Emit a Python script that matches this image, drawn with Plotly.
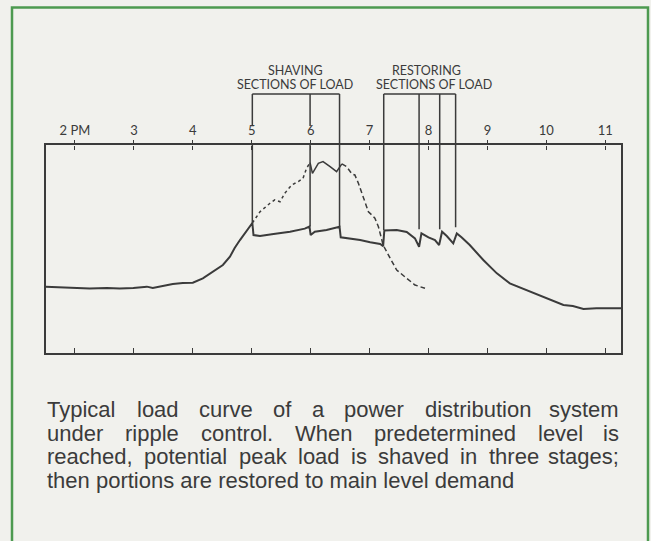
import numpy as np
import plotly.graph_objects as go

W, H = 651, 541

# Solid curve: actual system load (hours after noon, load in % of chart height)
hours = [1.50, 1.75, 1.97, 2.25, 2.54, 2.76, 2.99, 3.22, 3.32, 3.49,
         3.66, 3.83, 4.00, 4.17, 4.34, 4.51, 4.63, 4.71, 4.80, 4.91,
         5.01, 5.03, 5.14, 5.37, 5.65, 5.90, 5.98, 6.00, 6.07, 6.27,
         6.44, 6.49, 6.51, 6.84, 7.01, 7.18, 7.23, 7.25, 7.46, 7.63,
         7.77, 7.84, 7.88, 8.00, 8.11, 8.18, 8.23, 8.31, 8.42, 8.48,
         8.56, 8.70, 8.93, 9.16, 9.38, 9.72, 10.06, 10.29, 10.45, 10.63,
         10.85, 11.08, 11.27]
load = [31.9, 31.5, 31.1, 31.0, 31.25, 31.0, 31.25, 31.9, 31.25, 32.2,
        33.2, 33.7, 33.8, 35.9, 39.1, 42.3, 46.3, 50.5, 54.3, 58.3,
        62.5, 56.7, 56.25, 57.2, 58.3, 59.8, 60.8, 56.7, 58.3, 59.1,
        60.1, 60.7, 55.6, 54.3, 53.2, 52.4, 51.4, 58.9, 59.1, 58.2,
        55.1, 51.1, 57.5, 55.6, 54.3, 51.9, 58.3, 56.25, 52.7, 57.5,
        55.6, 51.9, 44.7, 38.3, 33.5, 29.5, 25.5, 23.1, 22.6, 21.2,
        21.5, 21.4, 21.5]

# Dashed curve: potential (unshaved) peak load
potential_hours = [5.01, 5.14, 5.31, 5.39, 5.48, 5.56, 5.68, 5.79, 5.87, 5.93,
                   5.99, 6.03, 6.13, 6.21, 6.33, 6.44, 6.53, 6.61, 6.70, 6.75,
                   6.81, 6.89, 6.98, 7.04, 7.09, 7.15, 7.21, 7.23, 7.35, 7.46,
                   7.63, 7.77, 7.94]
potential_load = [62.5, 67.9, 72.0, 73.6, 72.7, 76.8, 80.8, 82.4, 84.0, 88.8,
                  91.5, 86.4, 91.2, 92.0, 89.6, 87.2, 90.9, 89.6, 86.1, 85.6,
                  81.6, 75.1, 67.9, 66.3, 64.8, 60.7, 54.3, 51.9, 45.5, 39.9,
                  35.9, 32.7, 31.1]

# Switching instants and the load level where each marker line meets the curve
shaving_hours = [5.01, 5.99, 6.49]
shaving_levels = [62.5, 60.8, 60.7]
restoring_hours = [7.24, 7.84, 8.19, 8.46]
restoring_levels = [59.1, 59.5, 59.5, 60.4]

tick_hours = [2, 3, 4, 5, 6, 7, 8, 9, 10, 11]
tick_labels = ["2 PM", "3", "4", "5", "6", "7", "8", "9", "10", "11"]

caption_lines = [
    "Typical load curve of a power distribution system",
    "under ripple control. When predetermined level is",
    "reached, potential peak load is shaved in three stages;",
    "then portions are restored to main level demand",
]

# ---- layout geometry (pixels) ----
PX_L, PX_R, PX_T, PX_B = 45.7, 621.0, 145.0, 353.0
TOP_PANEL = 60.0               # upper edge of the bracket panel
BRACKET = 51.0                 # bracket height above the frame (panel units = px)
LABEL_GAP = 19.0               # marker lines stop above an hour label
X_RANGE = [1.503, 11.267]
INK = "#3b3b3b"
BG = "#f1f1ed"
GREEN = "#4d9a50"
LABEL_FONT = "Lato"
CAPTION_FONT = "Liberation Sans"
CAPTION_SIZE = 22


def py(v):
    return 1 - v / H


fig = go.Figure()

# potential-load curve, in three stroke styles
ph = np.array(potential_hours)
pl = np.array(potential_load)
segments = [(ph <= 5.99, "3px,3px"), ((ph >= 5.99) & (ph <= 6.53), "solid"), (ph >= 6.53, "5px,3px")]
for mask, dash in segments:
    fig.add_trace(go.Scatter(x=ph[mask], y=pl[mask], mode="lines",
                             line=dict(color=INK, width=1.5, dash=dash),
                             xaxis="x", yaxis="y", hoverinfo="skip"))

# actual load curve
fig.add_trace(go.Scatter(x=hours, y=load, mode="lines",
                         line=dict(color=INK, width=2), xaxis="x", yaxis="y",
                         hoverinfo="skip"))

# marker lines inside the frame
for hs, lv in ((shaving_hours, shaving_levels), (restoring_hours, restoring_levels)):
    xs, ys = [], []
    for h, v in zip(hs, lv):
        xs += [h, h, None]
        ys += [v, 100, None]
    fig.add_trace(go.Scatter(x=xs, y=ys, mode="lines", line=dict(color=INK, width=1.5),
                             xaxis="x", yaxis="y", hoverinfo="skip"))

# brackets above the frame
for hs in (shaving_hours, restoring_hours):
    xs, ys = [hs[0], hs[-1], None], [BRACKET, BRACKET, None]
    for h in hs:
        on_label = abs(h - round(h)) < 0.05
        xs += [h, h, None]
        ys += [LABEL_GAP if on_label else 0, BRACKET, None]
    fig.add_trace(go.Scatter(x=xs, y=ys, mode="lines", line=dict(color=INK, width=1.5),
                             xaxis="x2", yaxis="y2", hoverinfo="skip"))

# keeps the top time axis (labels + frame edge) active
fig.add_trace(go.Scatter(x=[tick_hours[0]], y=[0], mode="markers", opacity=0,
                         xaxis="x3", yaxis="y", hoverinfo="skip"))

annotations = []
lab = dict(family=LABEL_FONT, size=12.5, color=INK)
for text, xc, yc in (("SHAVING", 5.75, 145 - 71), ("SECTIONS OF LOAD", 5.73, 145 - 84.5),
                     ("RESTORING", 7.97, 145 - 71), ("SECTIONS OF LOAD", 8.09, 145 - 84.5)):
    annotations.append(dict(text=text, x=xc, y=yc, xref="x2", yref="y2", showarrow=False,
                            xanchor="center", yanchor="middle", font=lab))

# caption, justified like the printed column
HELV = {' ': 278, ',': 278, '.': 278, ';': 278, 'a': 556, 'b': 556, 'c': 500, 'd': 556,
        'e': 556, 'f': 278, 'g': 556, 'h': 556, 'i': 222, 'j': 222, 'k': 500, 'l': 222,
        'm': 833, 'n': 556, 'o': 556, 'p': 556, 'q': 556, 'r': 333, 's': 500, 't': 278,
        'u': 556, 'v': 500, 'w': 722, 'x': 500, 'y': 500, 'z': 500, 'T': 611, 'W': 944}


def text_width(s, size):
    return sum(HELV.get(c, 556) for c in s) * size / 1000.0


CAP_L, CAP_R = 46.0, 620.0
line_y = [409.5, 433.0, 456.5, 480.0]
cap_font = dict(family=CAPTION_FONT, size=CAPTION_SIZE, color=INK)
for i, (line, yc) in enumerate(zip(caption_lines, line_y)):
    if i == len(caption_lines) - 1:
        annotations.append(dict(text=line, x=CAP_L / W, y=py(yc), xref="paper", yref="paper",
                                xanchor="left", yanchor="middle", showarrow=False,
                                borderpad=0, font=cap_font))
        continue
    words = line.split(" ")
    widths = [text_width(w, CAPTION_SIZE) for w in words]
    gap = (CAP_R - CAP_L - sum(widths)) / (len(words) - 1)
    x = CAP_L
    for j, (w, wd) in enumerate(zip(words, widths)):
        last = j == len(words) - 1
        annotations.append(dict(text=w, x=(CAP_R if last else x) / W, y=py(yc),
                                xref="paper", yref="paper",
                                xanchor="right" if last else "left", yanchor="middle",
                                showarrow=False, borderpad=0, font=cap_font))
        x += wd + gap

xdom = [PX_L / W, PX_R / W]
common_x = dict(domain=xdom, range=X_RANGE, tickmode="array", tickvals=tick_hours,
                showgrid=False, zeroline=False, tickcolor=INK, tickwidth=1.3)

fig.update_layout(
    width=W, height=H, autosize=False,
    margin=dict(l=0, r=0, t=0, b=0),
    paper_bgcolor=BG, plot_bgcolor=BG,
    showlegend=False,
    xaxis=dict(**common_x, anchor="y", side="bottom", ticks="inside", ticklen=5,
               showticklabels=False, showline=True, linecolor=INK, linewidth=1.5),
    xaxis2=dict(**common_x, anchor="y2", side="bottom", ticks="outside", ticklen=4,
                showticklabels=False, showline=False),
    xaxis3=dict(**common_x, anchor="y", overlaying="x", side="top", ticks="outside",
                ticklen=3, ticktext=tick_labels, showline=True, linecolor=INK,
                linewidth=1.5, tickfont=dict(family=LABEL_FONT, size=13, color=INK)),
    yaxis=dict(domain=[py(PX_B), py(PX_T)], range=[0, 100], showline=True, mirror=True,
               linecolor=INK, linewidth=1.5, ticks="", showticklabels=False,
               showgrid=False, zeroline=False),
    yaxis2=dict(domain=[py(PX_T), py(TOP_PANEL)], range=[0, PX_T - TOP_PANEL],
                visible=False, showgrid=False, zeroline=False),
    shapes=[dict(type="rect", xref="paper", yref="paper", x0=12 / W, x1=648 / W,
                 y0=-0.05, y1=py(7.5), line=dict(color=GREEN, width=2.5),
                 fillcolor="rgba(0,0,0,0)")],
    annotations=annotations,
)

fig.write_html("out.html")
